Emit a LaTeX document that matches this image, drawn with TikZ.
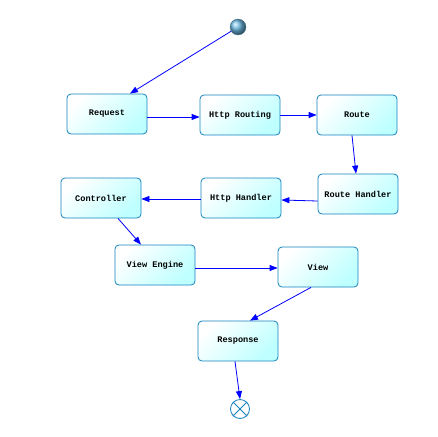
\documentclass[tikz,border=0pt]{standalone}
\usepackage{fontspec}
\setmonofont{Liberation Mono}
\usetikzlibrary{arrows.meta}
\definecolor{bordc}{RGB}{20,130,190}
\definecolor{fillc}{RGB}{190,255,255}
\definecolor{arrc}{RGB}{0,0,255}
\definecolor{ballc}{RGB}{110,185,225}
\tikzset{
  state/.style={draw=bordc, line width=0.8pt, rounded corners=4pt,
    top color=white, bottom color=fillc, shading angle=45,
    minimum width=80pt, minimum height=40pt, inner sep=0pt,
    font=\ttfamily\bfseries\fontsize{8.6}{10}\selectfont},
  flow/.style={draw=arrc, line width=0.8pt, -{Triangle[length=8pt,width=6pt]}},
}
\begin{document}
\begin{tikzpicture}[x=1pt,y=-1pt]
\useasboundingbox (0,0) rectangle (438,436);
\node[circle, minimum size=16pt, inner sep=0pt, ball color=ballc, draw=ballc!60!black, line width=0.3pt] (init) at (238,27) {};
\node[state] (req) at (107,114) {Request};
\node[state] (hrout) at (240,115) {Http Routing};
\node[state] (route) at (357,115) {Route};
\node[state] (rh) at (358,194) {Route Handler};
\node[state] (hh) at (241,198) {Http Handler};
\node[state] (ctrl) at (101,198) {Controller};
\node[state] (ve) at (155,265) {View Engine};
\node[state] (view) at (318,267) {View};
\node[state] (resp) at (238,341) {Response};
\node[circle, draw=bordc, fill=white, line width=0.8pt, minimum size=19pt, inner sep=0pt] (fin) at (240,409) {};
\draw[bordc, line width=0.8pt] (fin.north west) -- (fin.south east) (fin.north east) -- (fin.south west);

\draw[flow] (init) -- ([xshift=23pt]req.north);
\draw[flow] ([yshift=-3pt]req.east) -- ([yshift=-2pt]hrout.west);
\draw[flow] (hrout.east) -- (route.west);
\draw[flow] ([xshift=-5pt]route.south) -- ([xshift=-2pt]rh.north);
\draw[flow] ([yshift=-7pt]rh.west) -- ([yshift=-2pt]hh.east);
\draw[flow] ([yshift=-1pt]hh.west) -- ([yshift=-1pt]ctrl.east);
\draw[flow] ([xshift=17pt]ctrl.south) -- ([xshift=-14pt]ve.north);
\draw[flow] ([yshift=-3pt]ve.east) -- ([yshift=-1pt]view.west);
\draw[flow] ([xshift=-7pt]view.south) -- ([xshift=12pt]resp.north);
\draw[flow] ([xshift=-3pt]resp.south) -- (fin.north);
\end{tikzpicture}
\end{document}
